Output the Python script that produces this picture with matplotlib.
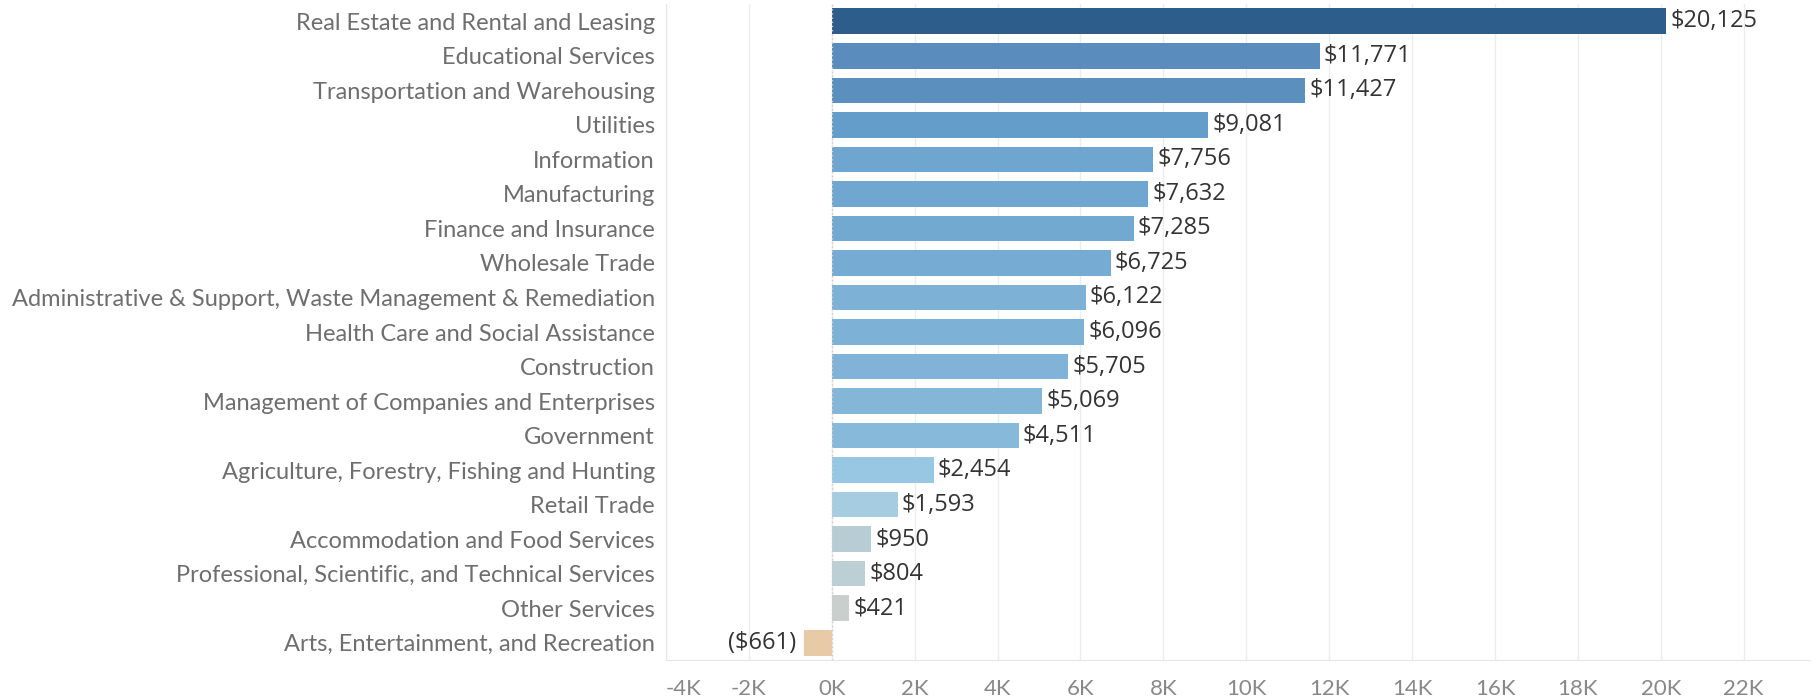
import matplotlib
matplotlib.use("Agg")
import matplotlib.pyplot as plt
from matplotlib.ticker import FuncFormatter

categories = [
    "Real Estate and Rental and Leasing",
    "Educational Services",
    "Transportation and Warehousing",
    "Utilities",
    "Information",
    "Manufacturing",
    "Finance and Insurance",
    "Wholesale Trade",
    "Administrative & Support, Waste Management & Remediation",
    "Health Care and Social Assistance",
    "Construction",
    "Management of Companies and Enterprises",
    "Government",
    "Agriculture, Forestry, Fishing and Hunting",
    "Retail Trade",
    "Accommodation and Food Services",
    "Professional, Scientific, and Technical Services",
    "Other Services",
    "Arts, Entertainment, and Recreation",
]
values = [20125, 11771, 11427, 9081, 7756, 7632, 7285, 6725, 6122, 6096,
          5705, 5069, 4511, 2454, 1593, 950, 804, 421, -661]
colors = ["#2d5e8b", "#5a8dbd", "#5b8fbe", "#659dca", "#6ea6cf", "#70a7d0",
          "#72a9d1", "#76acd3", "#7db1d6", "#7db1d6", "#80b3d7", "#84b6d8",
          "#86b9da", "#98c7e3", "#a5cce0", "#b8ccd3", "#bccfd5", "#c8cfcc",
          "#e8cba6"]
xticks = list(range(-4000, 22001, 2000))

cat_font = ["Lato", "DejaVu Sans"]
val_font = ["Open Sans", "DejaVu Sans"]

fig = plt.figure(figsize=(18.2, 7.0), dpi=100)
ax = fig.add_axes([666 / 1820, 40 / 700, 1144 / 1820, 656 / 700])

ypos = list(range(len(categories)))
ax.barh(ypos, values, height=0.74, color=colors, zorder=3)
ax.set_ylim(len(categories) - 0.5, -0.5)
ax.set_xlim(-4000, 23600)

ax.set_yticks(ypos)
ax.set_yticklabels(categories, fontsize=17, color="#6e6e6e", family=cat_font)
ax.tick_params(axis="y", length=0, pad=8)

ax.set_xticks(xticks)
ax.xaxis.set_major_formatter(FuncFormatter(lambda v, p: f"{int(v/1000)}K"))
ax.tick_params(axis="x", length=0, labelsize=16, labelcolor="#888888", pad=14)

ax.grid(axis="x", color="#ececec", linewidth=1, zorder=0)
ax.axvline(0, color="#cccccc", linewidth=1, linestyle=(0, (1, 2)), zorder=4)

for s in ["top", "right"]:
    ax.spines[s].set_visible(False)
ax.spines["left"].set_color("#e6e6e6")
ax.spines["bottom"].set_color("#e6e6e6")

for y, v in zip(ypos, values):
    if v >= 0:
        txt = f"${v:,}"
        ax.annotate(txt, (v, y), xytext=(3, 0), textcoords="offset points",
                    ha="left", va="center", fontsize=17, color="#333333",
                    family=val_font)
    else:
        txt = f"(${-v:,})"
        ax.annotate(txt, (v, y), xytext=(-6, 0), textcoords="offset points",
                    ha="right", va="center", fontsize=17, color="#333333",
                    family=val_font)

# fit category labels so the longest one spans ~644 px
fig.canvas.draw()
r = fig.canvas.get_renderer()
labs = ax.get_yticklabels()
wmax = max(l.get_window_extent(r).width for l in labs)
scale = 644.0 / wmax
for l in labs:
    l.set_fontsize(17 * scale)
xlabs = ax.get_xticklabels()
for l in xlabs:
    l.set_family(cat_font)
xlabs[0].set_horizontalalignment("left")
xlabs[0].set_x(-3950)

fig.savefig("out.png", dpi=100)
